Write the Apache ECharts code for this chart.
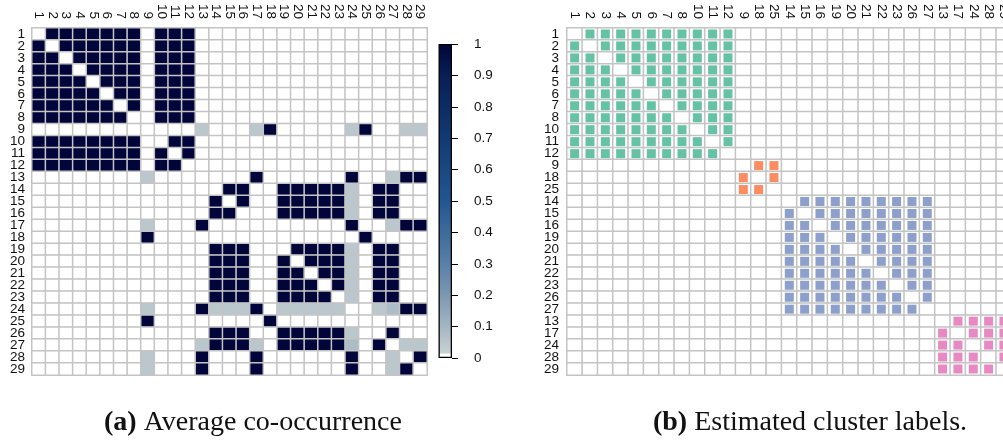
<!DOCTYPE html>
<html>
<head>
<meta charset="utf-8">
<script src="https://cdn.jsdelivr.net/npm/echarts@6/dist/echarts.min.js"></script>
<style>
  html, body { margin: 0; padding: 0; background: #ffffff; }
  #chart { width: 1003px; height: 441px; }
</style>
</head>
<body>
<div id="chart"></div>
<script>
// Node ids 1..29, used as row/column categories of both matrices
const nodeLabels = ['1','2','3','4','5','6','7','8','9','10','11','12','13','14','15','16','17','18','19','20','21','22','23','24','25','26','27','28','29'];

// Average co-occurrence matrix (row i, column j), nodes in natural order
const coOccurrence = [
  [0,1,1,1,1,1,1,1,0,1,1,1,  0,0,0,0,0,0,0,0,0,0,0,0,0,0,0,0,0],
  [1,0,1,1,1,1,1,1,0,1,1,1,  0,0,0,0,0,0,0,0,0,0,0,0,0,0,0,0,0],
  [1,1,0,1,1,1,1,1,0,1,1,1,  0,0,0,0,0,0,0,0,0,0,0,0,0,0,0,0,0],
  [1,1,1,0,1,1,1,1,0,1,1,1,  0,0,0,0,0,0,0,0,0,0,0,0,0,0,0,0,0],
  [1,1,1,1,0,1,1,1,0,1,1,1,  0,0,0,0,0,0,0,0,0,0,0,0,0,0,0,0,0],
  [1,1,1,1,1,0,1,1,0,1,1,1,  0,0,0,0,0,0,0,0,0,0,0,0,0,0,0,0,0],
  [1,1,1,1,1,1,0,1,0,1,1,1,  0,0,0,0,0,0,0,0,0,0,0,0,0,0,0,0,0],
  [1,1,1,1,1,1,1,0,0,1,1,1,  0,0,0,0,0,0,0,0,0,0,0,0,0,0,0,0,0],
  [0,0,0,0,0,0,0,0,0,0,0,0,  .05,0,0,0,.05,1,0,0,0,0,0,.05,1,0,0,.05,.05],
  [1,1,1,1,1,1,1,1,0,0,1,1,  0,0,0,0,0,0,0,0,0,0,0,0,0,0,0,0,0],
  [1,1,1,1,1,1,1,1,0,1,0,1,  0,0,0,0,0,0,0,0,0,0,0,0,0,0,0,0,0],
  [1,1,1,1,1,1,1,1,0,1,1,0,  0,0,0,0,0,0,0,0,0,0,0,0,0,0,0,0,0],
  [0,0,0,0,0,0,0,0,.05,0,0,0,  0,0,0,0,1,0,0,0,0,0,0,1,0,0,.05,1,1],
  [0,0,0,0,0,0,0,0,0,0,0,0,  0,0,1,1,0,0,1,1,1,1,1,.05,0,1,1,0,0],
  [0,0,0,0,0,0,0,0,0,0,0,0,  0,1,0,1,0,0,1,1,1,1,1,.05,0,1,1,0,0],
  [0,0,0,0,0,0,0,0,0,0,0,0,  0,1,1,0,0,0,1,1,1,1,1,.05,0,1,1,0,0],
  [0,0,0,0,0,0,0,0,.05,0,0,0,  1,0,0,0,0,0,0,0,0,0,0,1,0,0,.05,1,1],
  [0,0,0,0,0,0,0,0,1,0,0,0,  0,0,0,0,0,0,0,0,0,0,0,0,1,0,0,0,0],
  [0,0,0,0,0,0,0,0,0,0,0,0,  0,1,1,1,0,0,0,1,1,1,1,.05,0,1,1,0,0],
  [0,0,0,0,0,0,0,0,0,0,0,0,  0,1,1,1,0,0,1,0,1,1,1,.05,0,1,1,0,0],
  [0,0,0,0,0,0,0,0,0,0,0,0,  0,1,1,1,0,0,1,1,0,1,1,.05,0,1,1,0,0],
  [0,0,0,0,0,0,0,0,0,0,0,0,  0,1,1,1,0,0,1,1,1,0,1,.05,0,1,1,0,0],
  [0,0,0,0,0,0,0,0,0,0,0,0,  0,1,1,1,0,0,1,1,1,1,0,.05,0,1,1,0,0],
  [0,0,0,0,0,0,0,0,.05,0,0,0,  1,.05,.05,.05,1,0,.05,.05,.05,.05,.05,0,0,.05,.08,1,1],
  [0,0,0,0,0,0,0,0,1,0,0,0,  0,0,0,0,0,1,0,0,0,0,0,0,0,0,0,0,0],
  [0,0,0,0,0,0,0,0,0,0,0,0,  0,1,1,1,0,0,1,1,1,1,1,.05,0,0,1,0,0],
  [0,0,0,0,0,0,0,0,0,0,0,0,  .05,1,1,1,.05,0,1,1,1,1,1,.08,0,1,0,.05,.05],
  [0,0,0,0,0,0,0,0,.05,0,0,0,  1,0,0,0,1,0,0,0,0,0,0,1,0,0,.05,0,1],
  [0,0,0,0,0,0,0,0,.05,0,0,0,  1,0,0,0,1,0,0,0,0,0,0,1,0,0,.05,1,0]
];

// Estimated cluster of each node 1..29 (0..3)
const clusterOf = [0,0,0,0,0,0,0,0,1,0,0,0,3,2,2,2,3,1,2,2,2,2,2,3,1,2,2,3,3];
// Node order used by the cluster-label matrix
const clusterOrder = ['1','2','3','4','5','6','7','8','10','11','12','9','18','25','14','15','16','19','20','21','22','23','26','27','13','17','24','28','29'];
const clusterColors = ['#66c2a5', '#fc8d62', '#8da0cb', '#e78ac3'];

const captions = [
  { tag: '(a)', text: 'Average co-occurrence' },
  { tag: '(b)', text: 'Estimated cluster labels.' }
];

// Colour scale of the co-occurrence values
const colorStops = [
  [0, '#ffffff'], [0.012, '#ffffff'], [0.016, '#c9d2d3'], [0.1, '#a4b6c2'],
  [0.2, '#7c98b2'], [0.3, '#5980a6'], [0.5, '#225690'], [0.7, '#123a72'],
  [0.9, '#081f55'], [1, '#02053a']
];

function hexToRgb(h) {
  return [parseInt(h.slice(1,3),16), parseInt(h.slice(3,5),16), parseInt(h.slice(5,7),16)];
}
function colorAt(v) {
  for (let i = 1; i < colorStops.length; i++) {
    const [v1, c1] = colorStops[i];
    const [v0, c0] = colorStops[i - 1];
    if (v <= v1) {
      const t = v1 === v0 ? 0 : (v - v0) / (v1 - v0);
      const a = hexToRgb(c0), b = hexToRgb(c1);
      const m = a.map((x, k) => Math.round(x + (b[k] - x) * t));
      return 'rgb(' + m.join(',') + ')';
    }
  }
  return colorStops[colorStops.length - 1][1];
}
const rampColors = [];
for (let i = 0; i <= 200; i++) rampColors.push(colorAt(i / 200));

// Heatmap cells of the co-occurrence matrix
const coData = [];
coOccurrence.forEach((row, r) => row.forEach((v, c) => coData.push([c, r, v])));

// Background cells and cluster squares of the reordered matrix
const bgData = [];
const clusterData = [[], [], [], []];
clusterOrder.forEach((rowNode, r) => {
  clusterOrder.forEach((colNode, c) => {
    bgData.push([c, r, 0]);
    const a = clusterOf[+rowNode - 1], b = clusterOf[+colNode - 1];
    if (r !== c && a === b) clusterData[a].push([c, r]);
  });
});

const gridLineColor = '#c4c4c4';
const labelFont = { fontFamily: 'Liberation Sans', fontSize: 13.5, color: '#111' };

function catX(data, gridIndex) {
  return {
    type: 'category', data: data, gridIndex: gridIndex, position: 'top',
    axisLine: { show: false }, axisTick: { show: false }, splitLine: { show: false },
    axisLabel: Object.assign({ rotate: 90, margin: 9, interval: 0 }, labelFont)
  };
}
function catY(data, gridIndex, margin) {
  return {
    type: 'category', data: data, gridIndex: gridIndex, inverse: true,
    axisLine: { show: false }, axisTick: { show: false }, splitLine: { show: false },
    axisLabel: Object.assign({ margin: margin, interval: 0 }, labelFont)
  };
}

const gradient = new echarts.graphic.LinearGradient(0, 1, 0, 0,
  colorStops.map(([v, c]) => ({ offset: v, color: c })));

const chart = echarts.init(document.getElementById('chart'), null, { renderer: 'canvas' });
chart.setOption({
  animation: false,
  backgroundColor: '#ffffff',
  grid: [
    { left: 32, top: 28, width: 395, height: 347, outerBoundsMode: 'none' },
    { left: 567, top: 28, width: 444.6, height: 347, outerBoundsMode: 'none' },
    { left: 438.5, top: 44, width: 13.5, height: 314, outerBoundsMode: 'none' }
  ],
  xAxis: [
    catX(nodeLabels, 0),
    catX(clusterOrder, 1),
    { type: 'category', data: [''], gridIndex: 2, show: false }
  ],
  yAxis: [
    catY(nodeLabels, 0, 7),
    catY(clusterOrder, 1, 8),
    {
      type: 'value', gridIndex: 2, min: 0, max: 1, interval: 0.1, position: 'right',
      axisLine: { show: false }, splitLine: { show: false },
      axisTick: { show: true, length: 6, lineStyle: { color: '#000', width: 1 } },
      axisLabel: Object.assign({ margin: 22 }, labelFont)
    }
  ],
  visualMap: {
    type: 'continuous', show: false, min: 0, max: 1, seriesIndex: 0,
    inRange: { color: rampColors }
  },
  series: [
    {
      type: 'heatmap', xAxisIndex: 0, yAxisIndex: 0, data: coData,
      itemStyle: { borderColor: gridLineColor, borderWidth: 1.5 },
      emphasis: { disabled: true }
    },
    {
      type: 'heatmap', xAxisIndex: 1, yAxisIndex: 1, data: bgData,
      itemStyle: { color: '#ffffff', borderColor: gridLineColor, borderWidth: 1.5 },
      emphasis: { disabled: true }
    }
  ].concat(clusterData.map((d, k) => ({
    type: 'scatter', xAxisIndex: 1, yAxisIndex: 1, data: d,
    symbol: 'rect', symbolSize: [9, 9],
    itemStyle: { color: clusterColors[k], opacity: 1 },
    emphasis: { disabled: true }
  }))).concat([
    {
      type: 'bar', xAxisIndex: 2, yAxisIndex: 2, data: [1], barWidth: '100%',
      itemStyle: { color: gradient, borderColor: '#000', borderWidth: 1.3 },
      emphasis: { disabled: true }
    }
  ]),
  graphic: captions.map((cap, i) => ({
    type: 'text',
    x: i === 0 ? 253 : 810,
    y: 423,
    style: {
      text: '{b|' + cap.tag + '} ' + cap.text,
      align: 'center', verticalAlign: 'middle',
      fontFamily: 'Liberation Serif', fontSize: 28, fill: '#111',
      rich: { b: { fontFamily: 'Liberation Serif', fontSize: 28, fontWeight: 'bold', fill: '#111' } }
    }
  }))
});
</script>
</body>
</html>
